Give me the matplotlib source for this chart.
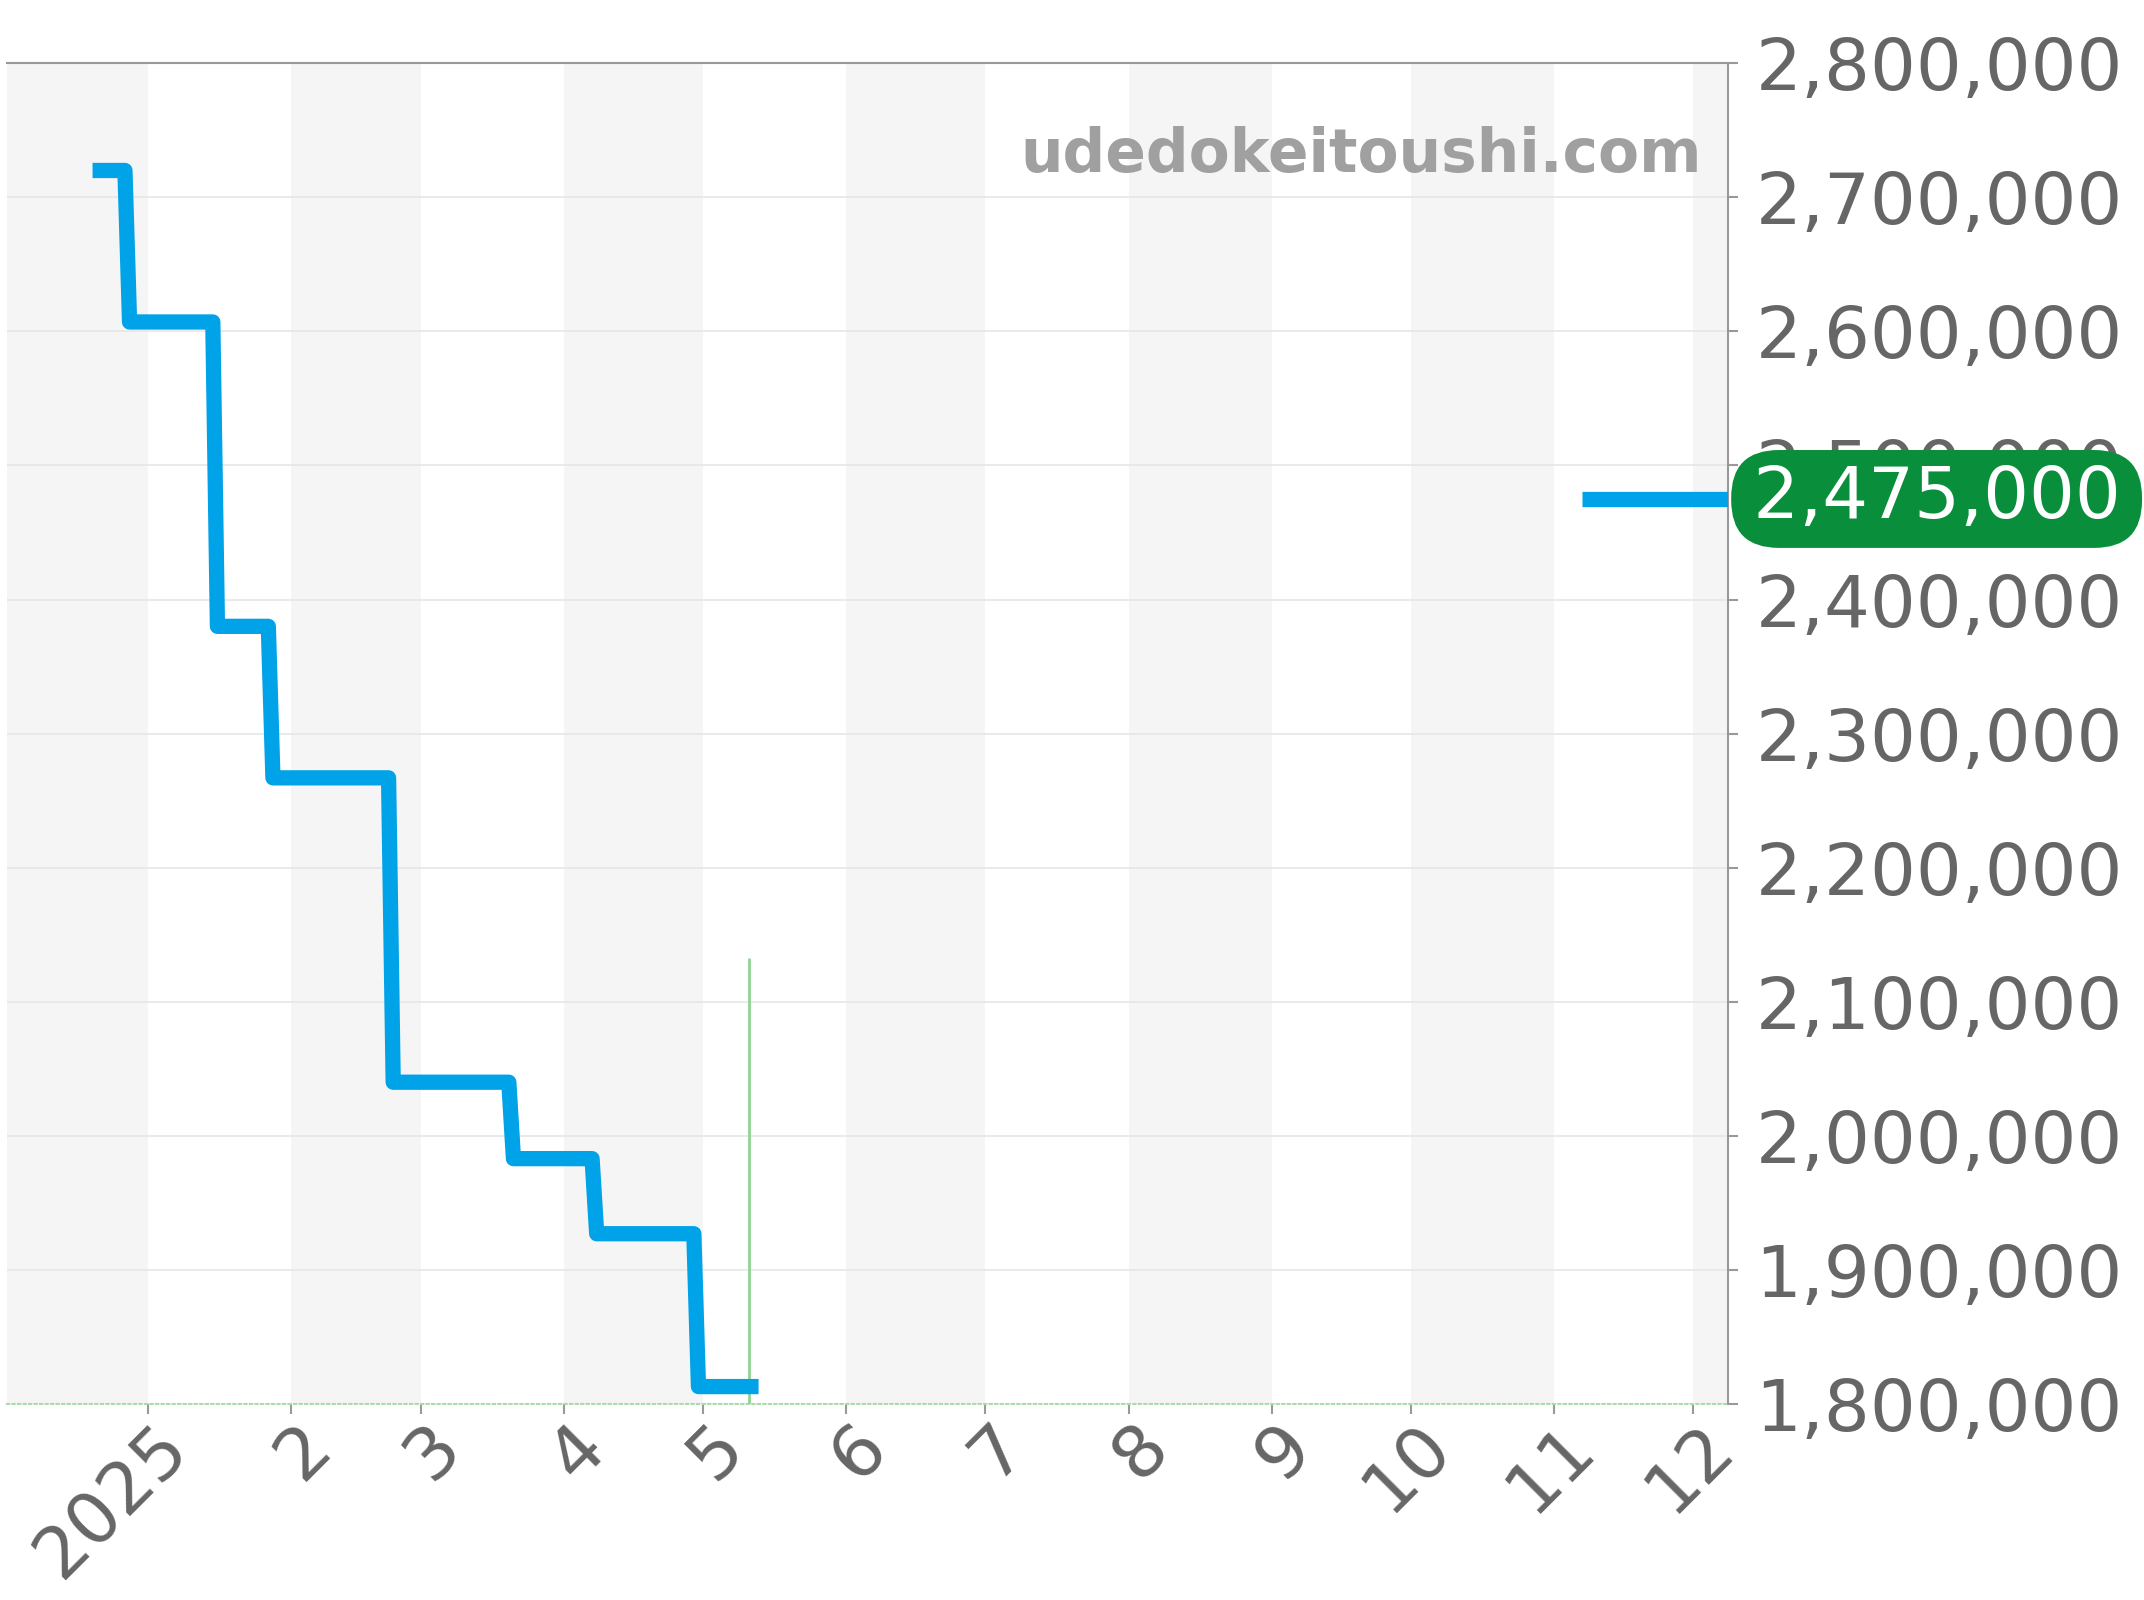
import matplotlib
matplotlib.use('Agg')
import matplotlib.pyplot as plt
import matplotlib.transforms as mtransforms
import pandas as pd

# price history (step corners)
dates = ['2024-12-20', '2024-12-27', '2024-12-28', '2025-01-15', '2025-01-16',
         '2025-01-27', '2025-01-28', '2025-02-22', '2025-02-23', '2025-03-20',
         '2025-03-21', '2025-04-07', '2025-04-08', '2025-04-29', '2025-04-30',
         '2025-05-13']
prices = [2720000, 2720000, 2607000, 2607000, 2380000,
          2380000, 2267000, 2267000, 2040000, 2040000,
          1983000, 1983000, 1927000, 1927000, 1813000,
          1813000]

# current price segment
cur_dates = ['2025-11-07', '2025-12-20']
cur_prices = [2475000, 2475000]
cur_label = '2,475,000'

# green marker line
mark_date = '2025-05-11'
mark_top = 2133000

tick_dates = pd.date_range('2025-01-01', '2025-12-01', freq='MS')
tick_labels = ['2025', '2', '3', '4', '5', '6', '7', '8', '9', '10', '11', '12']
yticks = list(range(1800000, 2800001, 100000))

x_start = pd.Timestamp('2024-12-01 12:00')
x_end = pd.Timestamp('2025-12-08 12:00')

blue = '#00a2e8'
green = '#098f3b'
grey_txt = '#666666'

fig = plt.figure(figsize=(21.44, 16), dpi=100)
ax = fig.add_axes([0.00326, 0.1225, 0.8025, 0.838])

# alternating month bands
months = pd.date_range('2024-12-01', '2026-01-01', freq='MS')
for i in range(len(months) - 1):
    if i % 2 == 0:
        ax.axvspan(months[i], months[i + 1], color='#f5f5f5', lw=0, zorder=0)

for y in yticks:
    ax.axhline(y, color='#e6e6e6', lw=1.2, zorder=1)

ax.plot(pd.to_datetime(dates), prices, color=blue, lw=11,
        solid_joinstyle='round', solid_capstyle='butt', zorder=4)
ax.plot(pd.to_datetime(cur_dates), cur_prices, color=blue, lw=11,
        solid_capstyle='butt', zorder=4)
ax.vlines(pd.Timestamp(mark_date), 1790000, mark_top, color='#8fd494', lw=2, zorder=3)

ax.set_xlim(x_start, x_end)
ax.set_ylim(1800000, 2800000)

ax.set_xticks(tick_dates)
ax.set_xticklabels(tick_labels, rotation=45, ha='right', va='center',
                   rotation_mode='anchor')
ax.yaxis.tick_right()
ax.set_yticks(yticks)
ax.set_yticklabels(['{:,}'.format(v) for v in yticks])
ax.tick_params(axis='both', labelsize=52, labelcolor=grey_txt, color='#999999',
               width=1.5, length=7)
ax.tick_params(axis='y', pad=13)
ax.tick_params(axis='x', pad=16)
shift = mtransforms.ScaledTranslation(0.29, 0, fig.dpi_scale_trans)
for lab in ax.get_xticklabels():
    lab.set_transform(lab.get_transform() + shift)

ax.spines['left'].set_visible(False)
ax.spines['top'].set_color('#999999')
ax.spines['top'].set_linewidth(1.5)
ax.spines['right'].set_color('#999999')
ax.spines['right'].set_linewidth(1.5)
ax.spines['bottom'].set_color('#a8dca8')
ax.spines['bottom'].set_linestyle(':')
ax.spines['bottom'].set_linewidth(1.5)

ax.text(0.985, 0.919, 'udedokeitoushi.com', transform=ax.transAxes,
        ha='right', va='baseline', fontsize=43, fontweight='bold', color='#a0a0a0')

trans = mtransforms.blended_transform_factory(ax.transAxes, ax.transData)
ax.text(1.0105, cur_prices[-1], '\u200a' + cur_label + '\u200a', transform=trans,
        ha='left', va='center', fontsize=52, color='white', clip_on=False, zorder=6,
        bbox=dict(boxstyle='round,pad=0.2,rounding_size=0.66', fc=green, ec='none'))

fig.savefig('out.png', dpi=100)
